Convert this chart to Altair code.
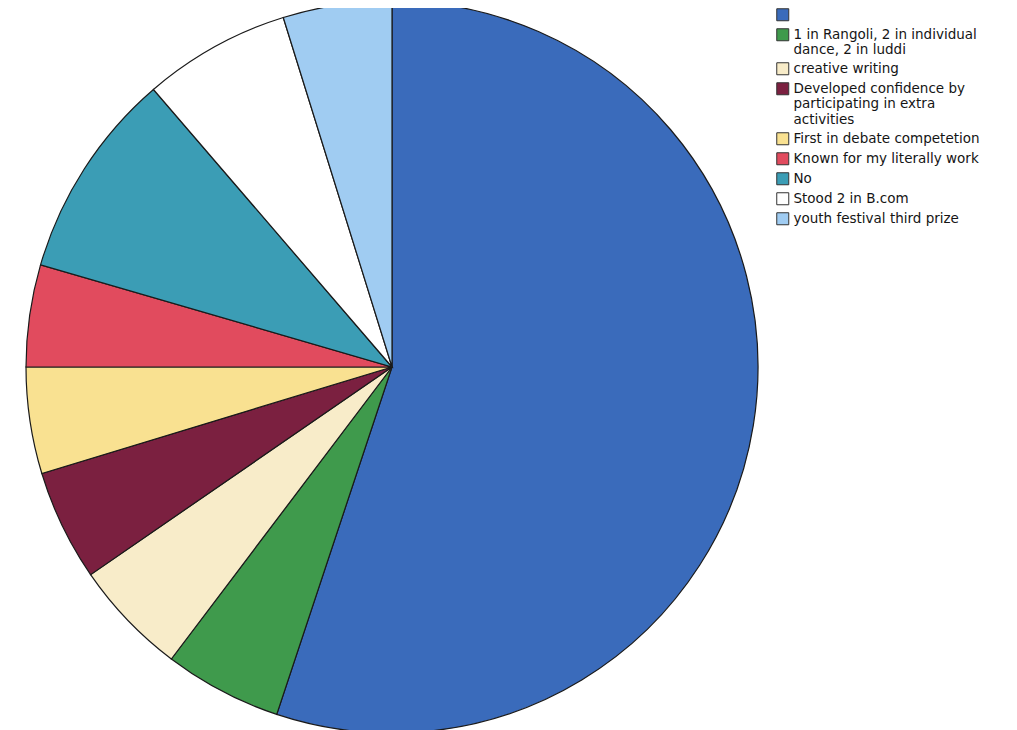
import altair as alt
import pandas as pd

categories = [
    " ",
    "1 in Rangoli, 2 in individual\ndance, 2 in luddi",
    "creative writing",
    "Developed confidence by\nparticipating in extra\nactivities",
    "First in debate competetion",
    "Known for my literally work",
    "No",
    "Stood 2 in B.com",
    "youth festival third prize",
]
percent = [55.1, 5.2, 5.1, 4.9, 4.7, 4.5, 9.2, 6.5, 4.8]
colors = ["#3a6bbb", "#3f9a4c", "#f8ecc9", "#7b2040", "#f9e191",
          "#e14b5e", "#3b9db5", "#ffffff", "#a0ccf2"]

df = pd.DataFrame({"cat": categories, "pct": percent, "idx": list(range(len(categories)))})

chart = alt.Chart(df).mark_arc(
    radius=366, stroke="#1a1a1a", strokeWidth=1.2
).encode(
    theta=alt.Theta("pct:Q", stack=True),
    order=alt.Order("idx:Q", sort="ascending"),
    color=alt.Color(
        "cat:N",
        sort=categories,
        scale=alt.Scale(domain=categories, range=colors),
        legend=alt.Legend(
            title=None,
            orient="none",
            legendX=768,
            legendY=0,
            symbolType="square",
            symbolSize=144,
            symbolStrokeColor="#333333",
            symbolStrokeWidth=1,
            labelFont="DejaVu Sans",
            labelFontSize=13.5,
            labelColor="#151515",
            labelLimit=260,
            labelExpr="split(datum.label, '\\n')",
            rowPadding=3,
            labelOffset=4,
            padding=0,
        ),
    ),
    x=alt.value(384),
    y=alt.value(359),
).properties(
    width=1001, height=722,
    autosize=alt.AutoSizeParams(type="none"),
    padding=0,
).configure_view(stroke=None)

chart.save("out.html", embed_options={"renderer": "svg", "actions": False})
